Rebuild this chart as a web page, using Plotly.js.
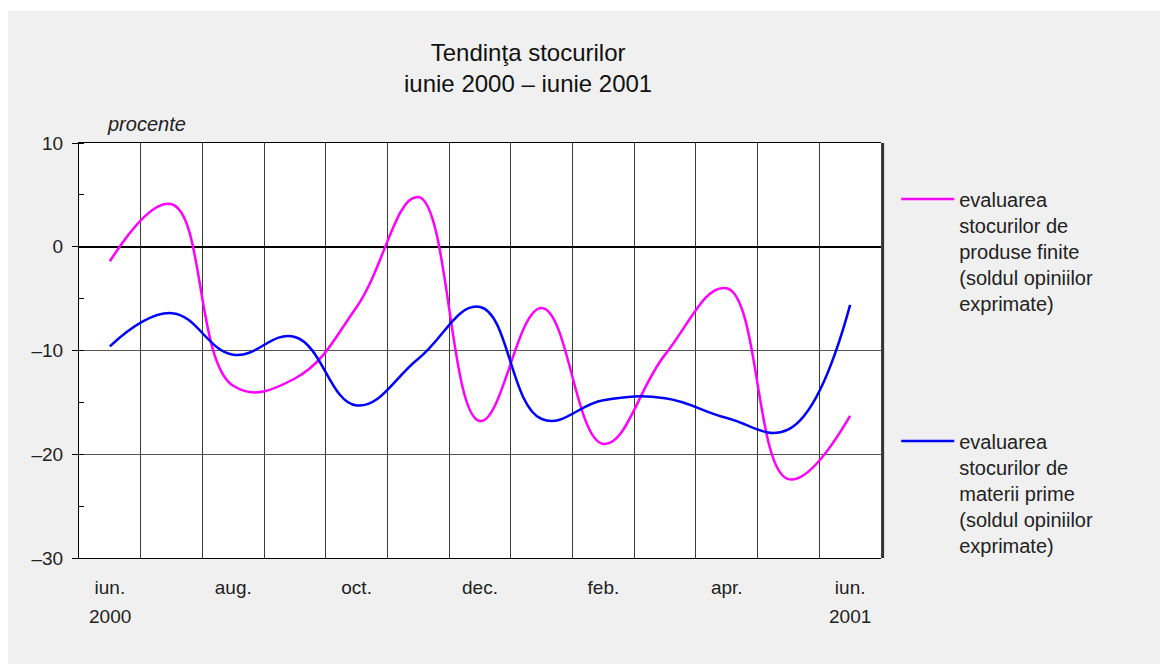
<!DOCTYPE html>
<html>
<head>
<meta charset="utf-8">
<script src="https://cdn.plot.ly/plotly-3.0.1.min.js"></script>
<style>
  html, body { margin: 0; padding: 0; background: #ffffff; width: 1160px; height: 664px; overflow: hidden; }
  #chart { position: absolute; left: 8px; top: 11px; width: 1152px; height: 653px; }
</style>
</head>
<body>
<div id="chart"></div>
<script>
// Categories (months, June 2000 – June 2001)
const months = ['iun. 2000', 'iul. 2000', 'aug. 2000', 'sep. 2000', 'oct. 2000', 'nov. 2000',
                'dec. 2000', 'ian. 2001', 'feb. 2001', 'mar. 2001', 'apr. 2001', 'mai 2001', 'iun. 2001'];
// Tick labels shown under the axis (every second month)
const monthTickText = ['iun.', '', 'aug.', '', 'oct.', '', 'dec.', '', 'feb.', '', 'apr.', '', 'iun.'];
const yearLabels = ['2000', '2001'];
const yearLabelMonths = ['iun. 2000', 'iun. 2001'];

// Series values (percent balance of opinions)
const produseFinite = [-1.4, 4.1, -13.4, -12.7, -5.8, 4.8, -16.8, -5.9, -19.0, -10.4, -4.0, -22.4, -16.3];
const materiiPrime  = [-9.6, -6.4, -10.4, -8.7, -15.3, -10.8, -5.8, -16.6, -14.8, -14.6, -16.5, -17.6, -5.6];

const seriesNames = [
  'evaluarea<br>stocurilor de<br>produse finite<br>(soldul opiniilor<br>exprimate)',
  'evaluarea<br>stocurilor de<br>materii prime<br>(soldul opiniilor<br>exprimate)'
];

// Y ticks
const yTickVals = [-30, -20, -10, 0, 10];
const yTickText = ['\u201330', '\u201320', '\u201310', '0', '10'];

const FONT = '"Liberation Sans", Arial, Helvetica, sans-serif';

const traces = [
  {
    x: months, y: produseFinite, type: 'scatter', mode: 'lines',
    name: seriesNames[0], legend: 'legend',
    line: { color: '#ff00ff', width: 2.5, shape: 'spline', smoothing: 1.2 },
    hoverinfo: 'x+y'
  },
  {
    x: months, y: materiiPrime, type: 'scatter', mode: 'lines',
    name: seriesNames[1], legend: 'legend2',
    line: { color: '#0000ff', width: 2.5, shape: 'spline', smoothing: 1.2 },
    hoverinfo: 'x+y'
  }
];

const annotations = [
  {
    text: 'procente', xref: 'paper', yref: 'paper', x: 0.084, y: 1.046,
    xanchor: 'center', yanchor: 'middle', showarrow: false,
    font: { family: FONT, size: 20, color: '#222', style: 'italic' }
  }
];
yearLabels.forEach((t, i) => {
  annotations.push({
    text: t, xref: 'x', yref: 'paper', x: yearLabelMonths[i], y: -0.142,
    xanchor: 'center', yanchor: 'middle', showarrow: false,
    font: { family: FONT, size: 19, color: '#222' }
  });
});

const layout = {
  width: 1152, height: 653,
  paper_bgcolor: '#f0f0f0',
  plot_bgcolor: '#ffffff',
  margin: { l: 71, r: 279, t: 132, b: 106, pad: 0 },
  font: { family: FONT, size: 19, color: '#222' },
  title: {
    text: 'Tendinţa stocurilor<br>iunie 2000 \u2013 iunie 2001',
    x: 0.56, xref: 'paper', xanchor: 'center',
    y: 0.923, yref: 'container', yanchor: 'top',
    font: { family: FONT, size: 24, color: '#111' }
  },
  showlegend: true,
  legend: {
    x: 1.019, xanchor: 'left', y: 0.912, yanchor: 'top',
    bgcolor: 'rgba(0,0,0,0)', borderwidth: 0,
    font: { family: FONT, size: 20, color: '#222' },
    itemwidth: 53, valign: 'top', tracegroupgap: 0
  },
  legend2: {
    x: 1.019, xanchor: 'left', y: 0.329, yanchor: 'top',
    bgcolor: 'rgba(0,0,0,0)', borderwidth: 0,
    font: { family: FONT, size: 20, color: '#222' },
    itemwidth: 53, valign: 'top', tracegroupgap: 0
  },
  xaxis: {
    type: 'category',
    categoryorder: 'array', categoryarray: months,
    range: [-0.5, months.length - 0.5],
    tickmode: 'array', tickvals: months, ticktext: monthTickText,
    tickson: 'boundaries',
    ticks: '', ticklen: 0,
    ticklabelstandoff: 12,
    showgrid: true, gridcolor: '#3a3a3a', gridwidth: 1,
    showline: true, linecolor: '#000', linewidth: 1, mirror: true,
    zeroline: false,
    tickfont: { family: FONT, size: 19, color: '#222' },
    fixedrange: true
  },
  yaxis: {
    range: [-30, 10],
    tickmode: 'array', tickvals: yTickVals, ticktext: yTickText,
    ticks: 'outside', ticklen: 6, tickcolor: '#000', tickwidth: 1,
    ticklabelstandoff: 5,
    minor: { dtick: 5, tick0: 0, ticks: 'inside', ticklen: 5, tickcolor: '#000', tickwidth: 1, showgrid: false },
    showgrid: true, gridcolor: '#555', gridwidth: 1,
    zeroline: true, zerolinecolor: '#000', zerolinewidth: 2.5,
    showline: true, linecolor: '#000', linewidth: 1,
    tickfont: { family: FONT, size: 19, color: '#222' },
    fixedrange: true
  },
  shapes: [
    { type: 'line', xref: 'paper', yref: 'paper', x0: 1.002, x1: 1.002, y0: 0, y1: 1,
      line: { color: '#333', width: 3 } }
  ],
  annotations: annotations
};

Plotly.newPlot('chart', traces, layout, { displayModeBar: false, staticPlot: true });
</script>
</body>
</html>
